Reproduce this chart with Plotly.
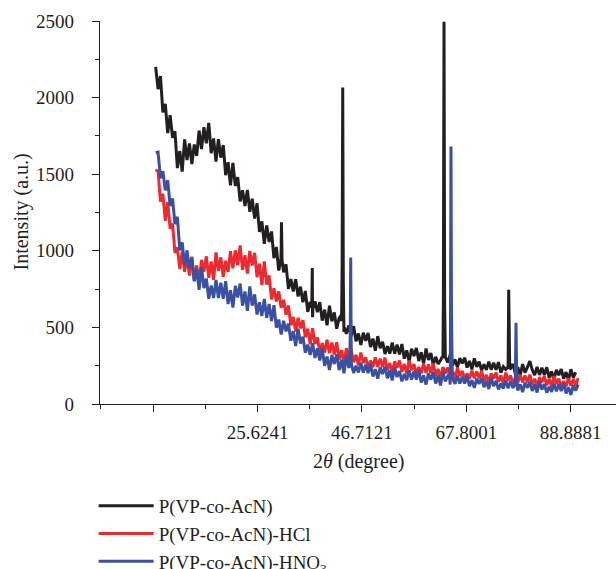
import numpy as np
import plotly.graph_objects as go

# 2-theta scan positions (uniform step of the diffractometer)
two_theta = np.round(np.linspace(5.05, 90.39, 176), 3)

black_int = [2200, 2055, 2141, 1904, 1959, 1768, 1885, 1738, 1780, 1540,
             1651, 1517, 1727, 1592, 1701, 1566, 1694, 1619, 1785, 1664,
             1807, 1702, 1835, 1637, 1733, 1582, 1729, 1608, 1690, 1494,
             1578, 1427, 1574, 1424, 1480, 1322, 1395, 1292, 1397, 1255,
             1340, 1211, 1310, 1124, 1192, 1045, 1166, 1058, 1126, 952,
             1025, 871, 1014, 860, 912, 751, 816, 735, 814, 702,
             766, 664, 738, 601, 666, 566, 670, 600, 665, 544,
             616, 514, 642, 540, 598, 491, 560, 540, 470, 458,
             513, 443, 508, 410, 460, 385, 465, 413, 463, 372,
             427, 348, 443, 364, 406, 326, 378, 329, 401, 328,
             388, 323, 391, 296, 350, 278, 361, 313, 366, 280,
             338, 263, 362, 287, 333, 254, 308, 261, 285, 300,
             310, 271, 321, 252, 291, 239, 300, 265, 302, 238,
             281, 226, 298, 243, 277, 219, 259, 223, 277, 224,
             270, 223, 273, 204, 244, 225, 250, 232, 261, 197,
             241, 186, 260, 205, 240, 280, 223, 188, 242, 190,
             236, 189, 240, 172, 212, 160, 223, 188, 228, 165,
             208, 154, 227, 173, 207]

red_int = [1530, 1518, 1321, 1372, 1195, 1319, 1144, 1177, 987, 1022,
           881, 996, 863, 959, 839, 961, 805, 905, 789, 941,
           864, 964, 824, 931, 810, 989, 869, 957, 831, 935,
           862, 998, 886, 1003, 905, 1035, 875, 971, 851, 999,
           904, 987, 828, 916, 776, 930, 780, 839, 683, 755,
           670, 735, 628, 680, 583, 644, 514, 568, 473, 563,
           494, 548, 435, 492, 390, 494, 392, 434, 337, 398,
           337, 420, 332, 401, 323, 403, 290, 351, 265, 364,
           307, 352, 273, 321, 253, 336, 268, 305, 235, 283,
           240, 304, 243, 296, 241, 302, 220, 267, 206, 279,
           237, 284, 210, 261, 197, 284, 221, 261, 194, 242,
           200, 265, 204, 259, 204, 265, 183, 229, 168, 241,
           200, 237, 176, 216, 164, 235, 182, 216, 161, 199,
           166, 218, 168, 212, 168, 217, 151, 190, 139, 200,
           166, 205, 144, 186, 133, 205, 152, 187, 132, 171,
           138, 191, 141, 186, 142, 192, 126, 165, 115, 176,
           143, 182, 122, 164, 112, 183, 130, 165, 110, 149,
           116, 169, 119, 164, 120, 170]

blue_int = [1640, 1644, 1473, 1519, 1395, 1462, 1293, 1341, 1174, 1222,
            1003, 1055, 902, 1003, 887, 956, 801, 882, 745, 894,
            757, 819, 687, 774, 692, 810, 692, 791, 686, 802,
            652, 743, 630, 771, 695, 786, 642, 734, 608, 768,
            642, 716, 584, 664, 575, 686, 562, 653, 541, 645,
            498, 551, 454, 543, 474, 525, 413, 475, 379, 491,
            395, 439, 335, 388, 320, 396, 301, 364, 285, 364,
            249, 310, 222, 320, 261, 324, 221, 289, 200, 318,
            235, 273, 203, 249, 206, 268, 205, 257, 201, 261,
            180, 227, 165, 239, 196, 244, 168, 219, 154, 240,
            176, 215, 148, 196, 155, 219, 159, 213, 159, 220,
            140, 187, 127, 201, 159, 208, 134, 185, 121, 209,
            148, 182, 127, 165, 132, 184, 134, 178, 133, 183,
            116, 156, 105, 165, 132, 170, 110, 151, 98, 170,
            117, 151, 95, 133, 100, 153, 103, 148, 104, 154,
            88, 128, 78, 139, 106, 145, 85, 127, 75, 147,
            95, 129, 74, 113, 80, 133, 83, 128, 85, 135,
            69, 109, 60, 121, 88, 128]

# Sharp diffraction peaks (profile points)
black_peak_x = [30.36, 30.47, 30.58, 36.58, 36.69, 36.80,
                42.55, 42.72, 42.84, 42.96, 43.15,
                62.95, 63.17, 63.30, 63.43, 63.65,
                76.17, 76.37, 76.57]
black_peak_y = [950, 1187, 940, 630, 888, 620,
                580, 900, 2066, 800, 500,
                310, 700, 2495, 650, 300,
                240, 745, 235]
red_peak_x = [44.35, 44.45, 44.55, 64.62, 64.71, 64.80]
red_peak_y = [330, 400, 320, 200, 250, 195]
blue_peak_x = [44.22, 44.36, 44.45, 44.54, 44.70,
               64.45, 64.61, 64.71, 64.81, 64.98,
               77.63, 77.75, 77.84, 77.94, 78.08]
blue_peak_y = [260, 450, 956, 430, 245,
               165, 500, 1681, 600, 158,
               125, 280, 531, 260, 120]

tick_vals = [4.5361, 25.6241, 46.7121, 67.8001, 88.8881]
tick_text = ["", "25.6241", "46.7121", "67.8001", "88.8881"]
minor_vals = [-6.0079, 15.0801, 36.1681, 57.2561, 78.3441]

names = ["P(VP-co-AcN)", "P(VP-co-AcN)-HCl", "P(VP-co-AcN)-HNO<sub>3</sub>"]
colors = ["#231f20", "#ee2a2e", "#3a50a2"]


def merged(ys, px, py):
    pts = sorted(zip(list(two_theta[:len(ys)]) + px, list(ys) + py))
    return [p[0] for p in pts], [p[1] for p in pts]


fig = go.Figure()
for ys, px, py, nm, c in [(black_int, black_peak_x, black_peak_y, names[0], colors[0]),
                          (red_int, red_peak_x, red_peak_y, names[1], colors[1]),
                          (blue_int, blue_peak_x, blue_peak_y, names[2], colors[2])]:
    xx, yy = merged(ys, px, py)
    fig.add_trace(go.Scatter(x=xx, y=yy, mode="lines", name=nm,
                             line=dict(color=c, width=3.0, simplify=False)))

axis_col = "#231f20"
fig.update_layout(
    width=616, height=569,
    margin=dict(l=100, r=0, t=21, b=165, autoexpand=False),
    plot_bgcolor="white", paper_bgcolor="white",
    font=dict(family="Liberation Serif", size=20, color=axis_col),
    showlegend=True,
    legend=dict(xref="container", yref="container", x=0.152, y=1 - 487 / 569,
                xanchor="left", yanchor="top", bgcolor="rgba(0,0,0,0)",
                font=dict(size=19), tracegroupgap=0, itemwidth=55),
    xaxis=dict(range=[-6.19, 98.04], showline=True, linecolor=axis_col, linewidth=1.3,
               ticks="outside", ticklen=7, tickwidth=1.3, tickcolor=axis_col,
               tickmode="array", tickvals=tick_vals, ticktext=tick_text, tickangle=0,
               ticklabelstandoff=4,
               minor=dict(tickmode="array", tickvals=minor_vals, ticks="outside",
                          ticklen=4, tickwidth=1.3, tickcolor=axis_col),
               showgrid=False, zeroline=False, tickfont=dict(size=19), automargin=False),
    yaxis=dict(range=[0, 2500], showline=True, linecolor=axis_col, linewidth=1.3,
               ticks="outside", ticklen=7, tickwidth=1.3, tickcolor=axis_col,
               tick0=0, dtick=500, automargin=False, ticklabelstandoff=14,
               minor=dict(dtick=250, ticks="outside", ticklen=4, tickwidth=1.3,
                          tickcolor=axis_col),
               showgrid=False, zeroline=False, tickfont=dict(size=19)),
    annotations=[
        dict(text="2<i>θ</i> (degree)", xref="paper", yref="paper",
             x=0.5, y=(404 - 461) / 383, xanchor="center", yanchor="middle",
             showarrow=False, font=dict(size=20)),
        dict(text="Intensity (a.u.)", xref="paper", yref="paper",
             x=(21 - 100) / 516, y=0.5, xanchor="center", yanchor="middle",
             textangle=-90, showarrow=False, font=dict(size=20)),
    ],
)

fig.write_html("out.html")
